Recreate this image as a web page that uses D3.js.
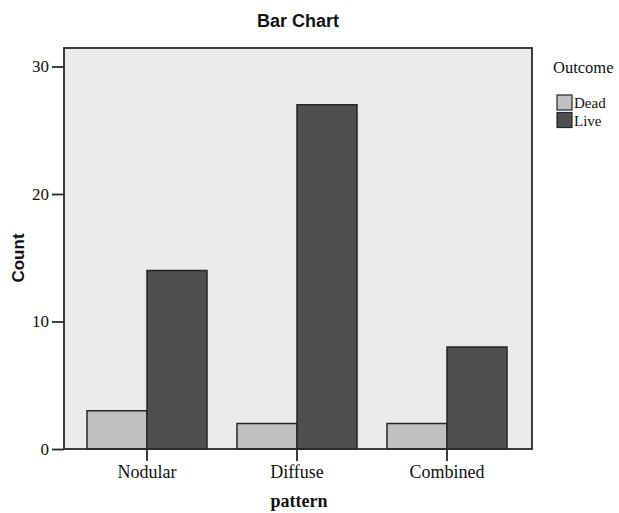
<!DOCTYPE html>
<html><head><meta charset="utf-8">
<script src="https://cdn.jsdelivr.net/npm/d3@7"></script>
<style>body{margin:0;background:#fff}</style>
</head><body>
<svg id="c" width="619" height="513"></svg>
<script>
const categories = ["Nodular", "Diffuse", "Combined"];
const outcomes = ["Dead", "Live"];
const deadValues = [3, 2, 2];
const liveValues = [14, 27, 8];
const yTicks = [0, 10, 20, 30];
const colors = {Dead: "#c0c0c0", Live: "#4f4f4f"};

const data = categories.map((c, i) => ({cat: c, Dead: deadValues[i], Live: liveValues[i]}));

const svg = d3.select("#c");
const frame = {left: 64, right: 532, top: 48, bottom: 449};

const y = d3.scaleLinear().domain([0, 30]).range([449, 66.5]);
const x = d3.scaleBand().domain(categories).range([72, 522]).paddingInner(0).paddingOuter(0);
const xs = d3.scaleBand().domain(outcomes).range([0, x.bandwidth()]).paddingInner(0).paddingOuter(0.25);

svg.append("rect").attr("x", frame.left).attr("y", frame.top)
  .attr("width", frame.right - frame.left).attr("height", frame.bottom - frame.top)
  .attr("fill", "#ebebeb");

const g = svg.append("g");
data.forEach(d => {
  outcomes.forEach(o => {
    g.append("rect")
      .attr("x", x(d.cat) + xs(o))
      .attr("y", y(d[o]))
      .attr("width", xs.bandwidth())
      .attr("height", y(0) - y(d[o]))
      .attr("fill", colors[o])
      .attr("stroke", "#262626")
      .attr("stroke-width", 1.5);
  });
});

svg.append("rect").attr("x", frame.left).attr("y", frame.top)
  .attr("width", frame.right - frame.left).attr("height", frame.bottom - frame.top)
  .attr("fill", "none").attr("stroke", "#2a2a2a").attr("stroke-width", 1.8);

// y axis
const yAxis = d3.axisLeft(y).tickValues(yTicks).tickSize(12).tickPadding(3).tickFormat(d3.format("d"));
const ya = svg.append("g").attr("transform", `translate(${frame.left},0)`).call(yAxis);
ya.select(".domain").remove();
ya.selectAll("line").attr("stroke", "#2a2a2a").attr("stroke-width", 1.8);
ya.selectAll("text").attr("font-family", "Liberation Serif, serif").attr("font-size", 17).attr("fill", "#111");

// x axis
const xAxis = d3.axisBottom(x).tickSize(12).tickPadding(4);
const xa = svg.append("g").attr("transform", `translate(0,${frame.bottom})`).call(xAxis);
xa.select(".domain").remove();
xa.selectAll("line").attr("stroke", "#2a2a2a").attr("stroke-width", 1.8);
xa.selectAll("text").attr("font-family", "Liberation Serif, serif").attr("font-size", 18).attr("fill", "#111");

// titles
svg.append("text").attr("x", 298).attr("y", 27).attr("text-anchor", "middle")
  .attr("font-family", "Liberation Sans, Arial, sans-serif").attr("font-weight", "bold")
  .attr("font-size", 18).attr("fill", "#111").text("Bar Chart");
svg.append("text").attr("transform", "translate(24,258) rotate(-90)").attr("text-anchor", "middle")
  .attr("font-family", "Liberation Sans, Arial, sans-serif").attr("font-weight", "bold")
  .attr("font-size", 17).attr("fill", "#111").text("Count");
svg.append("text").attr("x", 299).attr("y", 507).attr("text-anchor", "middle")
  .attr("font-family", "Liberation Serif, serif").attr("font-weight", "bold")
  .attr("font-size", 18).attr("fill", "#111").text("pattern");

// legend
const lg = svg.append("g");
lg.append("text").attr("x", 553).attr("y", 73).attr("font-family", "Liberation Serif, serif")
  .attr("font-size", 16.5).attr("fill", "#111").text("Outcome");
outcomes.forEach((o, i) => {
  const yy = 95 + i * 17.5;
  lg.append("rect").attr("x", 557).attr("y", yy).attr("width", 15).attr("height", 15)
    .attr("fill", colors[o]).attr("stroke", "#262626").attr("stroke-width", 1.2);
  lg.append("text").attr("x", 574).attr("y", yy + 13).attr("font-family", "Liberation Serif, serif")
    .attr("font-size", 15).attr("fill", "#111").text(o);
});
</script>
</body></html>
